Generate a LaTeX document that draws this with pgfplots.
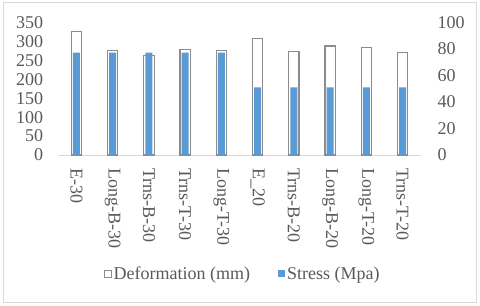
\documentclass[border=0pt]{standalone}
\usepackage{fontspec}
\setmainfont{Liberation Serif}
\usepackage{pgfplots}
\pgfplotsset{compat=1.18}
\definecolor{stressblue}{HTML}{5B9BD5}
\definecolor{txtgray}{HTML}{595959}
\definecolor{framegray}{HTML}{D9D9D9}
\definecolor{bargray}{HTML}{8C8C8C}
\begin{document}
\begin{tikzpicture}[x=1bp,y=1bp]
\useasboundingbox (0,0) rectangle (480,305);
\draw[framegray, line width=1bp] (3,3) rectangle (476,302);
\pgfplotsset{
  common/.style={
    scale only axis, width=362.4bp, height=132.5bp,
    at={(58.3bp,150bp)}, anchor=south west,
    xmin=-0.5, xmax=9.5,
    axis line style={draw=none},
    major tick length=0pt,
    tick label style={font=\fontsize{18bp}{20bp}\selectfont, text=txtgray},
    /pgf/number format/assume math mode=true,
    ybar, bar shift=0pt,
  }
}
\begin{axis}[common,
  ymin=0, ymax=350, ytick={0,50,...,350},
  xtick={0,...,9},
  xticklabels={E-30,Long-B-30,Trns-B-30,Trns-T-30,Long-T-30,E\_20,Trns-B-20,Long-B-20,Long-T-20,Trns-T-20},
  xticklabel style={rotate=-90, anchor=west, inner sep=0pt},
  xticklabel shift=13.3bp,
  yticklabel style={anchor=east, inner sep=0pt},
  yticklabel shift=15bp,
  bar width=10.4bp]
\draw[framegray, line width=1bp] (rel axis cs:0,0) -- (rel axis cs:1,0);
\addplot[fill=white, draw=bargray, line width=1.2bp] coordinates {
  (0,326) (1,276) (2,263) (3,278) (4,276) (5,308) (6,274) (7,288) (8,284) (9,271)};
\end{axis}
\begin{axis}[common,
  ymin=0, ymax=100, ytick={0,20,...,100},
  xtick=\empty,
  yticklabel pos=right,
  yticklabel style={anchor=west, inner sep=0pt},
  yticklabel shift=16.6bp,
  bar width=7bp,
  legend style={at={(0.509,-0.896)}, anchor=center, draw=none, fill=none,
    legend columns=2, font=\fontsize{18bp}{20bp}\selectfont, text=txtgray,
    /tikz/every even column/.append style={column sep=26bp},
    inner sep=0pt, nodes={inner sep=2bp}}]
\addlegendimage{legend image code/.code={\draw[bargray, fill=white, line width=0.8bp] (0bp,-3.5bp) rectangle (7bp,3.5bp);}}
\addlegendentry{Deformation (mm)}
\addplot[fill=stressblue, draw=none,
  legend image code/.code={\fill[stressblue] (0bp,-3.5bp) rectangle (7bp,3.5bp);}] coordinates {
  (0,77.2) (1,77.2) (2,77.2) (3,77.2) (4,77.2) (5,51.1) (6,51.1) (7,51.1) (8,51.1) (9,51.1)};
\addlegendentry{Stress (Mpa)}
\end{axis}
\end{tikzpicture}
\end{document}
